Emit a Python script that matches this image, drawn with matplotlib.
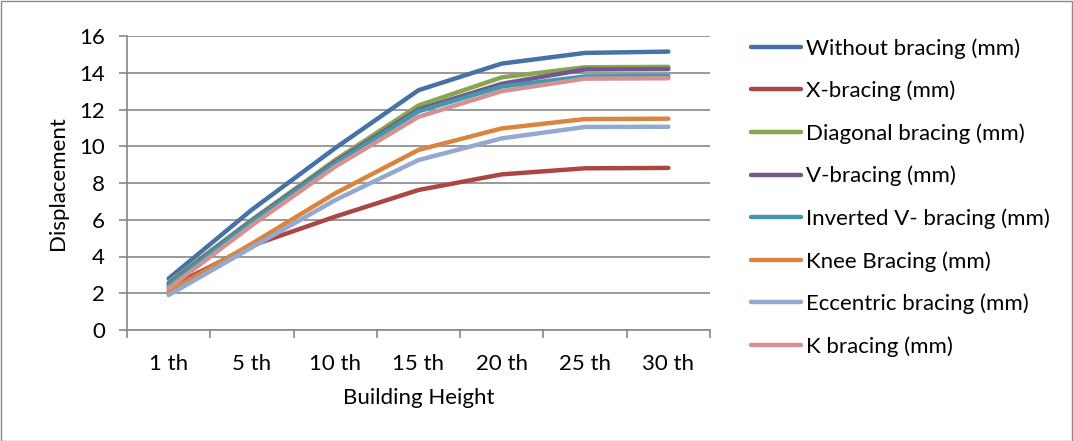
import matplotlib
matplotlib.use("Agg")
import matplotlib.pyplot as plt
from matplotlib.patches import Rectangle
import numpy as np

plt.rcParams['font.family'] = ['Lato', 'DejaVu Sans']

heights = ["1 th", "5 th", "10 th", "15 th", "20 th", "25 th", "30 th"]

without_bracing = [2.8, 6.55, 9.9, 13.05, 14.5, 15.08, 15.15]
x_bracing = [2.3, 4.6, 6.17, 7.62, 8.47, 8.8, 8.82]
diagonal_bracing = [2.6, 6.0, 9.25, 12.22, 13.75, 14.3, 14.32]
v_bracing = [2.5, 5.95, 9.15, 12.0, 13.4, 14.18, 14.2]
inverted_v_bracing = [2.45, 5.9, 9.07, 11.9, 13.25, 13.8, 13.82]
knee_bracing = [2.1, 4.7, 7.44, 9.8, 10.97, 11.48, 11.5]
eccentric_bracing = [1.9, 4.5, 7.07, 9.25, 10.43, 11.05, 11.06]
k_bracing = [2.27, 5.7, 8.89, 11.6, 13.0, 13.68, 13.7]

series = [
    ("Without bracing (mm)", without_bracing, "#4572A7"),
    ("X-bracing (mm)", x_bracing, "#AA4643"),
    ("Diagonal bracing (mm)", diagonal_bracing, "#89A54E"),
    ("V-bracing (mm)", v_bracing, "#71588F"),
    ("Inverted V- bracing (mm)", inverted_v_bracing, "#4198AF"),
    ("Knee Bracing (mm)", knee_bracing, "#DB843D"),
    ("Eccentric bracing (mm)", eccentric_bracing, "#93A9CF"),
    ("K bracing (mm)", k_bracing, "#D19392"),
]

FS = 16

fig = plt.figure(figsize=(10.73, 4.41), dpi=100)
W, H = 1073, 441
ax = fig.add_axes([127 / W, 1 - 330 / H, (710 - 127) / W, (330 - 36) / H])

x = np.arange(len(heights))
for label, vals, color in series:
    ax.plot(x, vals, color=color, lw=3.2, label=label, solid_capstyle='round')

ax.set_xlim(-0.5, len(heights) - 0.5)
ax.set_ylim(0, 16)
ax.set_yticks(np.arange(0, 17, 2))
ax.yaxis.grid(True, color="#888888", lw=1.2)
ax.set_axisbelow(True)

ax.set_xticks(np.arange(-0.5, len(heights), 1.0))
ax.set_xticklabels([])
ax.set_xticks(x, minor=True)
ax.set_xticklabels(heights, minor=True)
ax.tick_params(axis='x', which='minor', length=0, pad=17, labelsize=FS)
ax.tick_params(axis='x', which='major', length=6, color="#888888", width=1.2)
ax.tick_params(axis='y', length=6, color="#888888", width=1.2, labelsize=FS, pad=10)

for s in ("top", "right"):
    ax.spines[s].set_visible(False)
for s in ("left", "bottom"):
    ax.spines[s].set_color("#888888")
    ax.spines[s].set_linewidth(1.2)

ax.set_ylabel("Displacement", fontsize=FS, labelpad=8)
ax.set_xlabel("Building Height", fontsize=FS, labelpad=10)

ax.legend(loc="upper left", bbox_to_anchor=(751 / W, 1 - 38 / H),
          bbox_transform=fig.transFigure, frameon=False, fontsize=FS,
          handlelength=2.25, handletextpad=0.22, labelspacing=0.99,
          borderpad=0, borderaxespad=0)

fig.patches.append(Rectangle((0.5 / W, 0.5 / H), 1 - 1.5 / W, 1 - 1.5 / H,
                             transform=fig.transFigure, fill=False,
                             edgecolor="#888888", lw=1.0))

fig.savefig("out.png", dpi=100)
